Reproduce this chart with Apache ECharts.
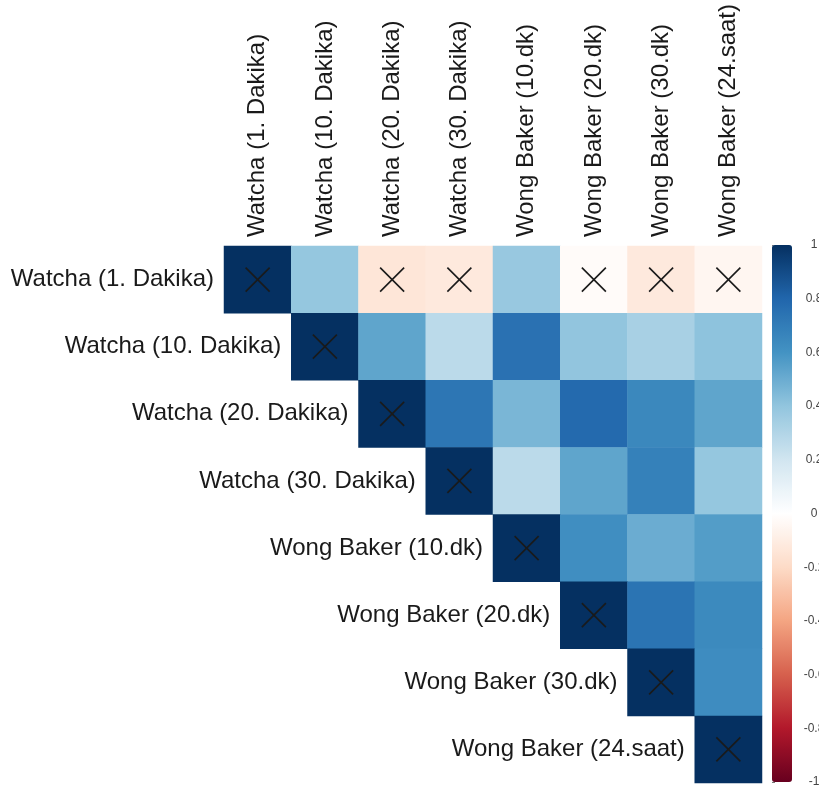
<!DOCTYPE html>
<html>
<head>
<meta charset="utf-8">
<script src="https://cdn.jsdelivr.net/npm/echarts@6/dist/echarts.min.js"></script>
<style>
  html, body { margin: 0; padding: 0; background: #ffffff; }
  #chart { width: 819px; height: 794px; }
</style>
</head>
<body>
<div id="chart"></div>
<script>
// Variable names (rows and columns share the same order)
const variables = [
  "Watcha (1. Dakika)",
  "Watcha (10. Dakika)",
  "Watcha (20. Dakika)",
  "Watcha (30. Dakika)",
  "Wong Baker (10.dk)",
  "Wong Baker (20.dk)",
  "Wong Baker (30.dk)",
  "Wong Baker (24.saat)"
];

// Upper-triangle correlation coefficients, each row starts at the diagonal
const rowWatcha1  = [1, 0.39, -0.14, -0.12, 0.38, -0.02, -0.12, -0.05];
const rowWatcha10 = [1, 0.53, 0.27, 0.75, 0.40, 0.33, 0.41];
const rowWatcha20 = [1, 0.73, 0.46, 0.78, 0.65, 0.53];
const rowWatcha30 = [1, 0.27, 0.53, 0.68, 0.39];
const rowWB10     = [1, 0.62, 0.50, 0.56];
const rowWB20     = [1, 0.74, 0.64];
const rowWB30     = [1, 0.63];
const rowWB24     = [1];
const upperRows = [rowWatcha1, rowWatcha10, rowWatcha20, rowWatcha30, rowWB10, rowWB20, rowWB30, rowWB24];

// Cells crossed out as not significant: [column, row]
const crossedCells = [
  [0, 0], [2, 0], [3, 0], [5, 0], [6, 0], [7, 0],
  [1, 1], [2, 2], [3, 3], [4, 4], [5, 5], [6, 6], [7, 7]
];

// Colour scale (RdBu) from -1 to 1 and its tick step
const rdbu = ["#67001F", "#B2182B", "#D6604D", "#F4A582", "#FDDBC7", "#FFFFFF",
              "#D1E5F0", "#92C5DE", "#4393C3", "#2166AC", "#053061"];
const scaleMin = -1, scaleMax = 1, scaleStep = 0.2;

const cellData = [];
upperRows.forEach((vals, r) => {
  vals.forEach((v, k) => cellData.push([r + k, r, v]));
});
const diagData = variables.map((name, i) => [i, i]);

const FONT = "Liberation Sans, Arial, sans-serif";
const chart = echarts.init(document.getElementById('chart'), null, { renderer: 'canvas' });

chart.setOption({
  animation: false,
  backgroundColor: '#ffffff',
  grid: [
    { left: 224, top: 246, width: 538, height: 537, outerBoundsMode: 'none' },
    { left: 772, top: 245, width: 20, height: 537, outerBoundsMode: 'none' }
  ],
  xAxis: [
    {
      type: 'category', gridIndex: 0, position: 'top', data: variables,
      axisLine: { show: false }, axisTick: { show: false }, splitLine: { show: false },
      axisLabel: { rotate: -90, margin: 9, fontSize: 24, fontFamily: FONT, color: '#1a1a1a', interval: 0 }
    },
    { type: 'value', gridIndex: 1, show: false, min: 0, max: 1 }
  ],
  yAxis: [
    {
      type: 'category', gridIndex: 0, inverse: true, data: variables,
      axisLine: { show: false }, axisTick: { show: false }, axisLabel: { show: false }, splitLine: { show: false }
    },
    {
      type: 'value', gridIndex: 1, position: 'right', min: scaleMin, max: scaleMax, interval: scaleStep,
      axisLine: { show: false }, splitLine: { show: false },
      axisTick: { show: true, length: 3, lineStyle: { color: '#777', width: 1 } },
      axisLabel: { align: 'center', margin: 22, fontSize: 12, fontFamily: FONT, color: '#444' }
    }
  ],
  visualMap: {
    type: 'continuous', seriesIndex: 0, min: scaleMin, max: scaleMax,
    orient: 'vertical', left: 772, top: 245, itemWidth: 20, itemHeight: 537,
    padding: 0, calculable: false, hoverLink: false, text: null, showLabel: false,
    inRange: { color: rdbu }
  },
  series: [
    {
      type: 'heatmap', xAxisIndex: 0, yAxisIndex: 0, data: cellData,
      itemStyle: { borderWidth: 0 }, emphasis: { disabled: true }
    },
    {
      // "X" marks on non-significant cells
      type: 'custom', xAxisIndex: 0, yAxisIndex: 0, data: crossedCells, silent: true,
      renderItem: function (params, api) {
        const c = api.coord([api.value(0), api.value(1)]);
        const h = 12;
        const style = { stroke: '#1a1a1a', lineWidth: 1.6 };
        return {
          type: 'group',
          children: [
            { type: 'line', shape: { x1: c[0] - h, y1: c[1] - h, x2: c[0] + h, y2: c[1] + h }, style: style },
            { type: 'line', shape: { x1: c[0] - h, y1: c[1] + h, x2: c[0] + h, y2: c[1] - h }, style: style }
          ]
        };
      }
    },
    {
      // Row names placed just left of each diagonal cell
      type: 'custom', xAxisIndex: 0, yAxisIndex: 0, data: diagData, silent: true, clip: false,
      renderItem: function (params, api) {
        const i = api.value(0);
        const c = api.coord([i, api.value(1)]);
        const s = api.size([1, 1]);
        return {
          type: 'text',
          x: c[0] - s[0] / 2 - 10,
          y: c[1],
          style: {
            text: variables[i], fill: '#1a1a1a',
            font: '24px ' + FONT,
            align: 'right', verticalAlign: 'middle',
            textAlign: 'right', textVerticalAlign: 'middle'
          }
        };
      }
    }
  ]
});
</script>
</body>
</html>
